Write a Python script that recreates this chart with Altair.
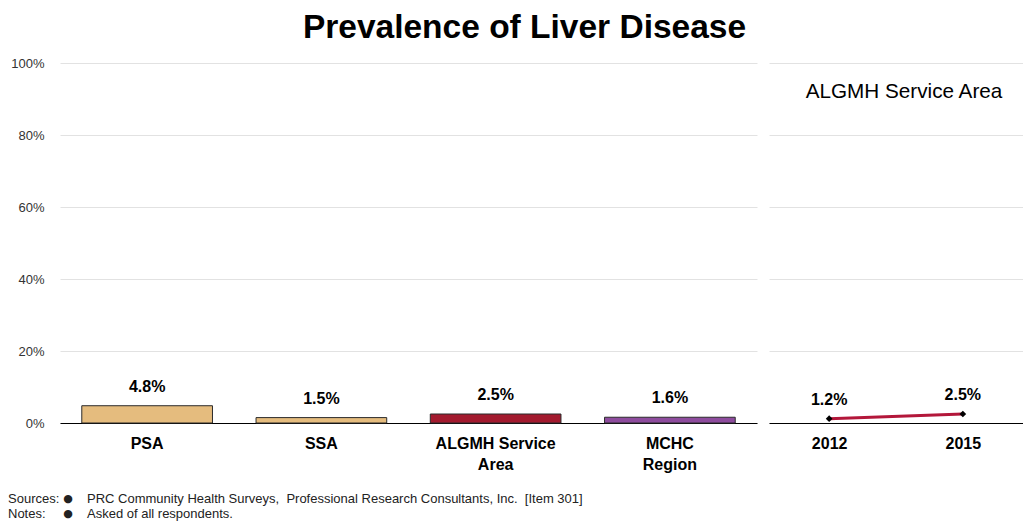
import altair as alt
import pandas as pd

categories = ["PSA", "SSA", "ALGMH Service Area", "MCHC Region"]
values = [4.8, 1.5, 2.5, 1.6]
bar_colors = ["#E5BC7E", "#E5BC7E", "#A31A2E", "#8E4C9E"]
years = ["2012", "2015"]
trend_values = [1.2, 2.5]
y_ticks = [0, 20, 40, 60, 80, 100]
title_text = "Prevalence of Liver Disease"
trend_title = "ALGMH Service Area"
footer_heads = ["Sources:", "Notes:"]
footer_texts = [
    "PRC Community Health Surveys,\u00a0\u00a0Professional Research Consultants, Inc.\u00a0\u00a0[Item 301]",
    "Asked of all respondents.",
]

NARROW = "Liberation Sans Narrow, Arial Narrow, Liberation Sans, Arial"
SANS = "Liberation Sans, Arial"
H = 360
W_L = 697
W_R = 254

left_df = pd.DataFrame({
    "cat": categories,
    "val": values,
    "color": bar_colors,
    "label": [f"{v:.1f}%" for v in values],
})
right_df = pd.DataFrame({
    "year": years,
    "val": trend_values,
    "label": [f"{v:.1f}%" for v in trend_values],
})

y_scale = alt.Scale(domain=[0, 100], nice=False)

y_left = alt.Y(
    "val:Q", scale=y_scale,
    axis=alt.Axis(values=y_ticks, labelExpr="datum.value + '%'", title=None,
                  domain=False, ticks=False, grid=True, gridColor="#e2e2e2",
                  labelFont=NARROW, labelFontSize=13, labelColor="#333333",
                  labelPadding=16, minExtent=52, maxExtent=52),
)
x_left = alt.X(
    "cat:N", sort=categories,
    scale=alt.Scale(paddingInner=0.25, paddingOuter=0.125),
    axis=alt.Axis(title=None, labelAngle=0, domainColor="black", domainWidth=1.2,
                  ticks=False, labelFont=NARROW, labelFontWeight="bold",
                  labelFontSize=16, labelColor="black", labelPadding=12,
                  labelLineHeight=21,
                  labelExpr="length(datum.label) > 5 ? [substring(datum.label, 0, lastindexof(datum.label, ' ')), substring(datum.label, lastindexof(datum.label, ' ') + 1)] : datum.label"),
)

base_l = alt.Chart(left_df).encode(x=x_left, y=y_left)
bars = base_l.mark_bar(stroke="#2b2b2b", strokeWidth=1).encode(
    color=alt.Color("color:N", scale=None)
)
bar_labels = base_l.mark_text(baseline="bottom", dy=-11, font=NARROW,
                              fontWeight="bold", fontSize=16, color="black").encode(text="label:N")

foot_layers = []
for i, (h, t) in enumerate(zip(footer_heads, footer_texts)):
    yy = 436 + i * 15
    fd = pd.DataFrame({"h": [h], "b": ["\u25cf"], "t": [t]})
    fc = alt.Chart(fd)
    foot_layers.append(fc.mark_text(align="left", baseline="middle", font=NARROW, fontSize=13, color="#222")
                       .encode(text="h:N", x=alt.value(-52), y=alt.value(yy)))
    foot_layers.append(fc.mark_text(align="center", baseline="middle", font="DejaVu Sans", fontSize=11, color="#222")
                       .encode(text="b:N", x=alt.value(8), y=alt.value(yy)))
    foot_layers.append(fc.mark_text(align="left", baseline="middle", font=NARROW, fontSize=13, color="#222")
                       .encode(text="t:N", x=alt.value(27), y=alt.value(yy)))

left_chart = alt.layer(bars, bar_labels, *foot_layers).properties(width=W_L, height=H)

x_right = alt.X(
    "year:O", sort=years,
    scale=alt.Scale(type="point", padding=0.45),
    axis=alt.Axis(title=None, labelAngle=0, domainColor="black", domainWidth=1.2,
                  ticks=False, labelFont=NARROW, labelFontWeight="bold",
                  labelFontSize=16, labelColor="black", labelPadding=12),
)
y_right = alt.Y(
    "val:Q", scale=y_scale,
    axis=alt.Axis(values=y_ticks, labels=False, title=None, domain=False, ticks=False,
                  grid=True, gridColor="#e2e2e2", minExtent=0, maxExtent=0),
)
base_r = alt.Chart(right_df).encode(x=x_right, y=y_right)
line = base_r.mark_line(color="#B3173A", strokeWidth=3)
pts = base_r.mark_point(shape="diamond", filled=True, color="black", size=45, opacity=1)
line_labels = base_r.mark_text(baseline="bottom", dy=-11, font=NARROW,
                               fontWeight="bold", fontSize=16, color="black").encode(text="label:N")
ann = alt.Chart(pd.DataFrame({"t": [trend_title]})).mark_text(
    font=NARROW, fontSize=20.7, color="black", baseline="middle"
).encode(text="t:N", x=alt.value(135), y=alt.value(29))

right_chart = alt.layer(line, pts, line_labels, ann).properties(width=W_R, height=H)

chart = alt.hconcat(left_chart, right_chart, spacing=12).properties(
    title=alt.TitleParams(title_text, fontSize=33.5, font=SANS, fontWeight="bold",
                          color="black", anchor="middle", dx=9, offset=11.5),
    padding={"left": 0, "right": 0, "top": 3, "bottom": 0},
).configure_view(stroke=None)

chart.save("out.html", embed_options={"renderer": "svg", "actions": False})
